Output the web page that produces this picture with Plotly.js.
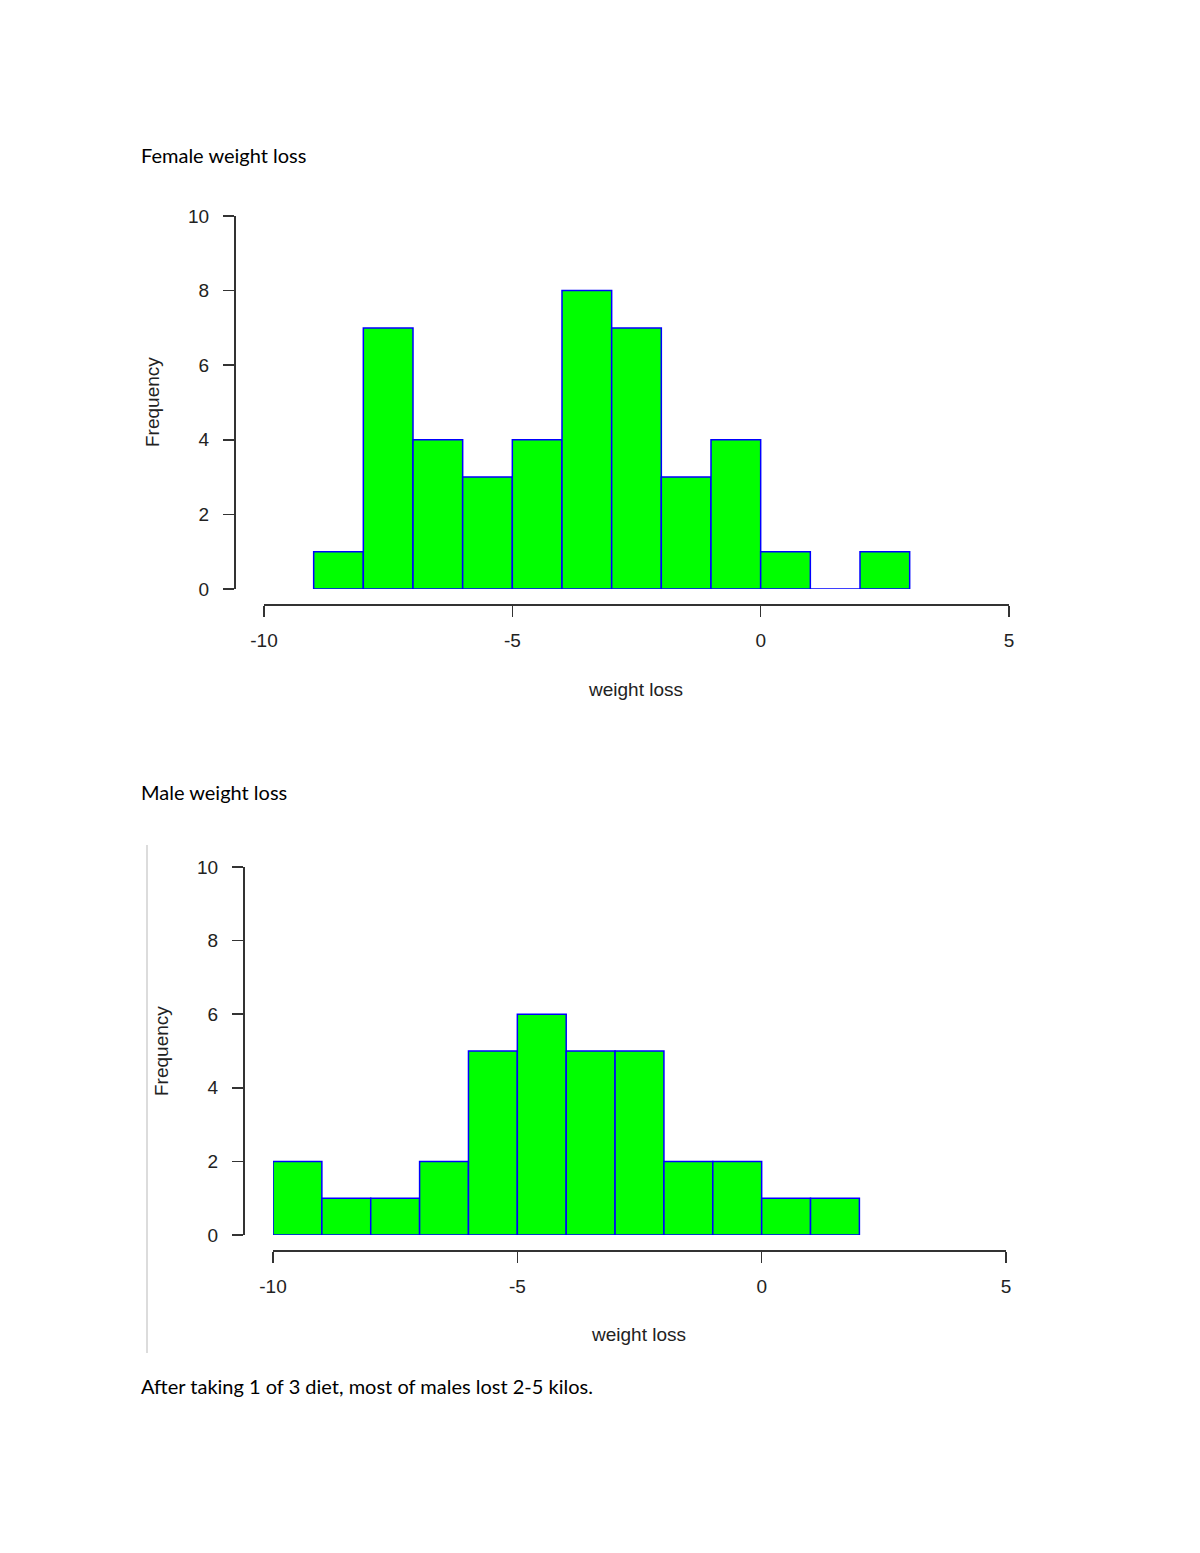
<!DOCTYPE html>
<html>
<head>
<meta charset="utf-8">
<script src="https://cdn.plot.ly/plotly-3.0.1.min.js"></script>
<style>
html,body{margin:0;padding:0;background:#fff;}
#chart{width:1200px;height:1553px;}
</style>
</head>
<body>
<div id="chart"></div>
<script>
// Data (histogram bins of width 1: left edge and count)
var femaleBinLeft = [-9, -8, -7, -6, -5, -4, -3, -2, -1, 0, 1, 2];
var femaleCounts  = [ 1,  7,  4,  3,  4,  8,  7,  3,  4, 1, 0, 1];
var maleBinLeft   = [-10, -9, -8, -7, -6, -5, -4, -3, -2, -1, 0, 1];
var maleCounts    = [  2,  1,  1,  2,  5,  6,  5,  5,  2,  2, 1, 1];
var xTicks = [-10, -5, 0, 5];
var yTicks = [0, 2, 4, 6, 8, 10];
var femaleTitle = "Female weight loss";
var maleTitle = "Male weight loss";
var xLabel = "weight loss";
var yLabel = "Frequency";
var caption = "After taking 1 of 3 diet, most of males lost 2-5 kilos.";

var W = 1200, H = 1553;
function px(x){ return x / W; }
function py(y){ return 1 - y / H; }

var barStyle = {color: '#00ff00', line: {color: '#0000ff', width: 1.5}};
var traces = [
  {type: 'bar', x: femaleBinLeft, y: femaleCounts, width: 1, offset: 0,
   marker: barStyle, xaxis: 'x', yaxis: 'y', hoverinfo: 'skip'},
  {type: 'bar', x: maleBinLeft, y: maleCounts, width: 1, offset: 0,
   marker: barStyle, xaxis: 'x2', yaxis: 'y2', hoverinfo: 'skip'}
];

var axisFont = {family: 'Liberation Sans, Arial, sans-serif', size: 19, color: '#222'};
function xAxis(d0, d1, pos){
  return {domain: [px(d0), px(d1)], range: [-10, 5], anchor: 'free', position: py(pos),
    showline: true, linecolor: '#333', linewidth: 1.5, ticks: 'outside', ticklen: 11,
    tickwidth: 1.5, tickcolor: '#333', tickvals: xTicks, ticktext: xTicks.map(String),
    showgrid: false, zeroline: false, tickfont: axisFont, ticklabelstandoff: 8, fixedrange: true};
}
function yAxis(d0, d1, pos){
  return {domain: [py(d0), py(d1)], range: [0, 10], anchor: 'free', position: px(pos),
    showline: true, linecolor: '#333', linewidth: 1.5, ticks: 'outside', ticklen: 11,
    tickwidth: 1.5, tickcolor: '#333', tickvals: yTicks, ticktext: yTicks.map(String),
    showgrid: false, zeroline: false, tickfont: axisFont, ticklabelstandoff: 10, fixedrange: true};
}

var docFont = {family: 'Lato, Calibri, sans-serif', size: 20, color: '#000'};
var annotations = [
  {text: femaleTitle, x: px(139), y: py(155), xref: 'paper', yref: 'paper', xanchor: 'left', yanchor: 'middle', showarrow: false, font: docFont},
  {text: maleTitle, x: px(139), y: py(792), xref: 'paper', yref: 'paper', xanchor: 'left', yanchor: 'middle', showarrow: false, font: docFont},
  {text: caption, x: px(139), y: py(1386), xref: 'paper', yref: 'paper', xanchor: 'left', yanchor: 'middle', showarrow: false, font: docFont},
  {text: xLabel, x: px(635), y: py(689), xref: 'paper', yref: 'paper', xanchor: 'center', yanchor: 'middle', showarrow: false, font: axisFont},
  {text: yLabel, x: px(152), y: py(402), xref: 'paper', yref: 'paper', xanchor: 'center', yanchor: 'middle', showarrow: false, textangle: -90, font: axisFont},
  {text: xLabel, x: px(638), y: py(1334), xref: 'paper', yref: 'paper', xanchor: 'center', yanchor: 'middle', showarrow: false, font: axisFont},
  {text: yLabel, x: px(161), y: py(1051), xref: 'paper', yref: 'paper', xanchor: 'center', yanchor: 'middle', showarrow: false, textangle: -90, font: axisFont}
];

var layout = {
  width: W, height: H,
  margin: {l: 0, r: 0, t: 0, b: 0, pad: 0},
  paper_bgcolor: '#fff', plot_bgcolor: 'rgba(0,0,0,0)',
  showlegend: false, bargap: 0,
  xaxis: xAxis(264, 1009, 604),
  yaxis: yAxis(589, 216, 234),
  xaxis2: xAxis(273, 1006, 1250),
  yaxis2: yAxis(1235, 867, 243),
  annotations: annotations,
  shapes: [
    {type: 'line', xref: 'paper', yref: 'paper', x0: px(147), x1: px(147), y0: py(845), y1: py(1353),
     line: {color: '#dcdcdc', width: 2}}
  ]
};

Plotly.newPlot('chart', traces, layout, {displayModeBar: false, staticPlot: true});
</script>
</body>
</html>
